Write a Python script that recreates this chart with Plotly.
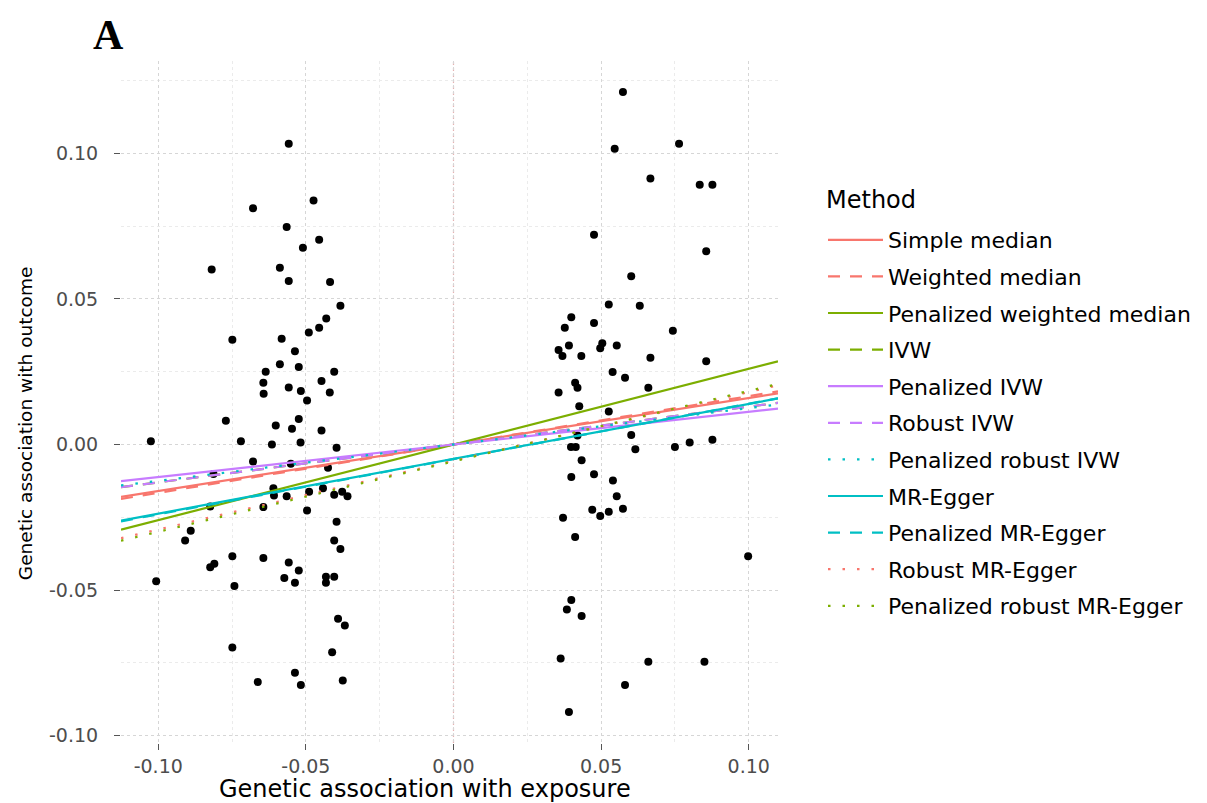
import plotly.graph_objects as go

# ---- data ----
bx = [-0.0558, -0.0474, -0.0679, -0.0565, -0.0455, -0.0510, -0.0819, -0.0588, -0.0558, -0.0418,
      -0.0383, -0.0431, -0.0455, -0.0749, -0.0582, -0.0490, -0.0537, -0.0588, -0.0524, -0.0636,
      -0.0404, -0.0644, -0.0447, -0.0643, -0.0558, -0.0517, -0.0419, -0.0496, -0.0771, -0.0524,
      -0.0602, -0.0547, -0.0447, -0.1025, -0.0720, -0.0615, -0.0518, -0.0396, -0.0679, -0.0551,
      -0.0813, -0.0425, -0.0610, -0.0442, -0.0608, -0.0565, -0.0489, -0.0404, -0.0377, -0.0359,
      -0.0824, -0.0644, -0.0496, -0.0396, -0.0890, -0.0909, -0.0404, -0.0383, -0.0749, -0.0644,
      -0.0824, -0.0810, -0.0558, -0.0524, -0.0573, -0.0537, -0.0432, -0.0404, -0.0432, -0.1007,
      -0.0742, -0.0391, -0.0368, -0.0749, -0.0411, -0.0537, -0.0663, -0.0517, -0.0375,
      0.0574, 0.0546, 0.0764, 0.0667, 0.0834, 0.0877, 0.0476, 0.0856, 0.0602, 0.0526,
      0.0631, 0.0399, 0.0377, 0.0476, 0.0743, 0.0356, 0.0391, 0.0369, 0.0433, 0.0504,
      0.0497, 0.0553, 0.0667, 0.0856, 0.0539, 0.0581, 0.0412, 0.0356, 0.0420, 0.0660,
      0.0426, 0.0526, 0.0420, 0.0602, 0.0398, 0.0414, 0.0616, 0.0750, 0.0800, 0.0877,
      0.0434, 0.0399, 0.0476, 0.0540, 0.0553, 0.0470, 0.0497, 0.0526, 0.0574, 0.0371,
      0.0412, 0.0998, 0.0399, 0.0384, 0.0434, 0.0363, 0.0660, 0.0850, 0.0581, 0.0391]
by = [0.1033, 0.0838, 0.0812, 0.0747, 0.0703, 0.0676, 0.0601, 0.0607, 0.0562, 0.0558,
      0.0477, 0.0433, 0.0401, 0.0360, 0.0363, 0.0385, 0.0320, 0.0276, 0.0266, 0.0250,
      0.0250, 0.0212, 0.0218, 0.0174, 0.0196, 0.0184, 0.0179, 0.0151, 0.0082, 0.0088,
      0.0065, 0.0054, 0.0048, 0.0011, 0.0011, 0.0000, 0.0007, -0.0011, -0.0058, -0.0066,
      -0.0101, -0.0080, -0.0150, -0.0150, -0.0175, -0.0178, -0.0162, -0.0173, -0.0162, -0.0178,
      -0.0213, -0.0215, -0.0227, -0.0265, -0.0296, -0.0330, -0.0330, -0.0359, -0.0384, -0.0390,
      -0.0422, -0.0410, -0.0405, -0.0433, -0.0459, -0.0475, -0.0454, -0.0454, -0.0475, -0.0470,
      -0.0486, -0.0599, -0.0622, -0.0697, -0.0714, -0.0784, -0.0816, -0.0826, -0.0811,
      0.1211, 0.1016, 0.1033, 0.0914, 0.0892, 0.0892, 0.0721, 0.0664, 0.0578, 0.0481,
      0.0477, 0.0437, 0.0401, 0.0417, 0.0391, 0.0325, 0.0340, 0.0304, 0.0304, 0.0348,
      0.0331, 0.0340, 0.0298, 0.0286, 0.0249, 0.0229, 0.0212, 0.0179, 0.0195, 0.0195,
      0.0131, 0.0113, 0.0031, 0.0033, -0.0009, -0.0009, -0.0016, -0.0009, 0.0007, 0.0016,
      -0.0054, -0.0112, -0.0102, -0.0124, -0.0178, -0.0224, -0.0246, -0.0231, -0.0221, -0.0252,
      -0.0318, -0.0384, -0.0534, -0.0567, -0.0589, -0.0735, -0.0746, -0.0746, -0.0826, -0.0919]

methods = ["Simple median", "Weighted median", "Penalized weighted median", "IVW",
           "Penalized IVW", "Robust IVW", "Penalized robust IVW", "MR-Egger",
           "Penalized MR-Egger", "Robust MR-Egger", "Penalized robust MR-Egger"]
slopes = [0.160, 0.166, 0.260, 0.130, 0.112, 0.130, 0.125, 0.1885, 0.190, 0.236, 0.242]
intercepts = [0.0, 0.0, 0.0, 0.0, 0.0, 0.0, 0.0, -0.0049, -0.0050, -0.0056, -0.0058]

x_tick_vals = [-0.10, -0.05, 0.00, 0.05, 0.10]
x_tick_text = ["-0.10", "-0.05", "0.00", "0.05", "0.10"]
y_tick_vals = [-0.10, -0.05, 0.00, 0.05, 0.10]
y_tick_text = ["-0.10", "-0.05", "0.00", "0.05", "0.10"]

# ---- styling ----
RED, GREEN, TEAL, PURPLE = "#F8766D", "#7CAE00", "#00BFC4", "#C77CFF"
line_colors = [RED, RED, GREEN, GREEN, PURPLE, PURPLE, TEAL, TEAL, TEAL, RED, GREEN]
DASH = "12px,10px"
DOT = "2.5px,12px"
line_dashes = ["solid", DASH, "solid", DASH, "solid", DASH, DOT, "solid", DASH, DOT, DOT]

def expand(vals, frac=0.05):
    lo, hi = min(vals), max(vals)
    pad = (hi - lo) * frac
    return [lo - pad, hi + pad]

x_range = expand(bx)
y_range = expand(by)

FONT = "DejaVu Sans"

fig = go.Figure()
fig.add_hline(y=0, line=dict(color="rgba(225,150,150,0.75)", width=1.2, dash="dot"), layer="below")
fig.add_vline(x=0, line=dict(color="rgba(225,150,150,0.75)", width=1.2, dash="dot"), layer="below")

fig.add_trace(go.Scatter(x=bx, y=by, mode="markers",
                         marker=dict(color="black", size=8, line=dict(width=0)),
                         showlegend=False, hoverinfo="x+y"))

for m, s, b, c, d in zip(methods, slopes, intercepts, line_colors, line_dashes):
    xs = x_range
    ys = [b + s * xv for xv in xs]
    fig.add_trace(go.Scatter(x=xs, y=ys, mode="lines", name=m, legendgroup=m,
                             line=dict(color=c, width=2.2, dash=d)))

axis_common = dict(
    showline=False, zeroline=False,
    showgrid=True, gridcolor="#D6D6D6", griddash="dot", gridwidth=1.2,
    ticks="outside", ticklen=6, tickcolor="#555555", tickwidth=1,
    tickfont=dict(family=FONT, size=19, color="#4D4D4D"),
    minor=dict(showgrid=True, gridcolor="#EBEBEB", griddash="dot", gridwidth=1, dtick=0.025),
)

fig.update_xaxes(range=x_range, tickmode="array", tickvals=x_tick_vals, ticktext=x_tick_text,
                 **axis_common)
fig.update_yaxes(range=y_range, tickmode="array", tickvals=y_tick_vals, ticktext=y_tick_text,
                 ticklabelstandoff=12, **axis_common)

W, H = 1207, 803
PL, PR, PT, PB = 121, 779, 61, 743          # plot area in page pixels
PW, PH = PR - PL, PB - PT

def px(x):
    return (x - PL) / PW

def py(y):
    return (PB - y) / PH

fig.update_layout(
    width=W, height=H,
    margin=dict(l=PL, r=W - PR, t=PT, b=H - PB),
    paper_bgcolor="white", plot_bgcolor="white",
    font=dict(family=FONT, color="black"),
    showlegend=True,
    legend=dict(
        x=px(823), y=py(219),
        xanchor="left", yanchor="top",
        font=dict(family=FONT, size=22, color="black"),
        tracegroupgap=5, itemwidth=55, bgcolor="rgba(0,0,0,0)",
    ),
    annotations=[
        dict(text="<b>A</b>", xref="paper", yref="paper",
             x=px(108), y=py(35),
             xanchor="center", yanchor="middle", showarrow=False,
             font=dict(family="Liberation Serif", size=42, color="black")),
        dict(text="Method", xref="paper", yref="paper",
             x=px(825), y=py(200),
             xanchor="left", yanchor="middle", showarrow=False,
             font=dict(family=FONT, size=24, color="black")),
        dict(text="Genetic association with exposure", xref="paper", yref="paper",
             x=px(425), y=py(789),
             xanchor="center", yanchor="middle", showarrow=False,
             font=dict(family=FONT, size=24, color="black")),
        dict(text="Genetic association with outcome", xref="paper", yref="paper",
             x=px(25), y=py(423),
             xanchor="center", yanchor="middle", showarrow=False, textangle=-90,
             font=dict(family=FONT, size=18.5, color="black")),
    ],
)

fig.write_html("out.html", config={"displayModeBar": False},
               post_script="document.body.style.margin='0px';document.body.style.overflow='hidden';")
